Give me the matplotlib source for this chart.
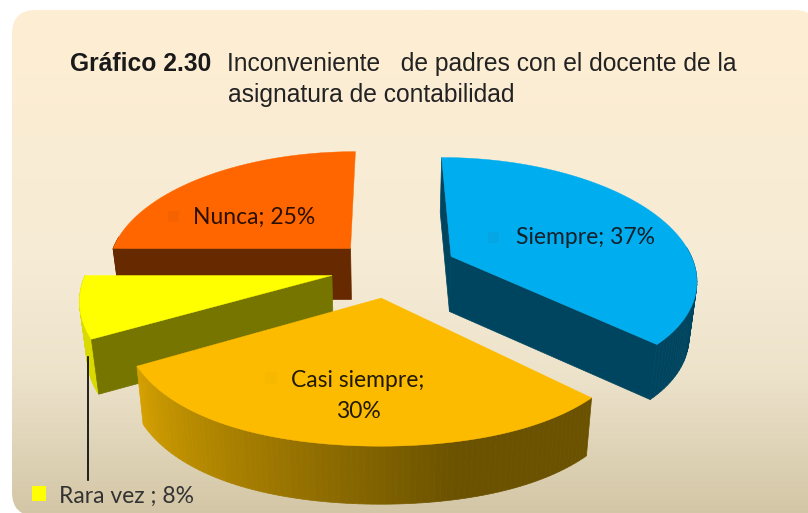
import numpy as np
import matplotlib
matplotlib.use("Agg")
import matplotlib.pyplot as plt
from matplotlib.patches import FancyBboxPatch, Polygon, Rectangle
from matplotlib.colors import LinearSegmentedColormap, to_rgb

categorias = ["Siempre", "Casi siempre", "Rara vez", "Nunca"]
valores = [37, 30, 8, 25]

# top face, cut faces, rim start / rim end
col_top = ["#00ADEF", "#FDBB00", "#FFFF00", "#FF6600"]
col_cut = ["#00455F", "#6B5200", "#757500", "#662900"]
col_rim = [("#00455F", "#00455F"), ("#6B5200", "#D4A000"), ("#DADA00", "#DADA00"), ("#662900", "#662900")]
# exploded offsets of each slice (world units)
offset = [(0.275, -0.115), (-0.015, 0.225), (-0.215, 0.045), (-0.145, -0.185)]
depth = [55, 58, 55, 51]
# which cut faces show: (first edge, last edge)
cortes = [(True, True), (False, False), (True, False), (True, False)]

X0, Y0 = 385, 270
A, B, K = 245, 120, 0.17
SHRINK = 0.975
FLAT = 0.05

fig = plt.figure(figsize=(8.08, 5.13), dpi=100)
ax = fig.add_axes([0, 0, 1, 1])
ax.set_xlim(0, 808)
ax.set_ylim(513, 0)
ax.axis("off")

# background
grad = LinearSegmentedColormap.from_list("bg", [(0, "#FEEED3"), (0.5, "#F6EBD5"), (0.72, "#EDE3CB"), (1, "#D3C6A6")])
im = ax.imshow(np.linspace(0, 1, 256).reshape(-1, 1), cmap=grad, extent=(0, 830, 516, 10), aspect="auto", zorder=0)
box = FancyBboxPatch((12, 10), 806, 506, boxstyle="round,pad=0,rounding_size=24", fc="none", ec="none", transform=ax.transData)
ax.add_patch(box)
im.set_clip_path(box)
ax.set_xlim(0, 808)
ax.set_ylim(513, 0)


def project(x, y):
    s = 1 / (1 - K * y)
    return X0 + x * A * s, Y0 + y * B * s


def lower(p, d):
    return X0 + (p[0] - X0) * SHRINK, p[1] + d


def side(p1, p2, color, z, d):
    pts = [p1, p2, lower(p2, d), lower(p1, d)]
    ax.add_patch(Polygon(pts, closed=True, fc=color, ec=color, lw=0.5, zorder=z))


fracs = np.array(valores) / sum(valores)
edges = np.concatenate([[0], np.cumsum(fracs)]) * 2 * np.pi
orden = [3, 0, 2, 1]  # back to front

for n, i in enumerate(orden):
    z = 2 + n
    th = np.linspace(edges[i], edges[i + 1], 90)
    ox, oy = offset[i]
    rim = []
    for t in th:
        fr = -np.cos(t)
        fr = fr * (1 - FLAT * max(0, fr) ** 4)
        rim.append(project(ox + np.sin(t), oy + fr))
    apex = project(ox, oy)
    c0, c1 = np.array(to_rgb(col_rim[i][0])), np.array(to_rgb(col_rim[i][1]))
    for j in range(len(rim) - 1):
        if np.cos(th[j]) > 0.1:  # back of the rim is hidden
            continue
        f = max(0, (j / (len(rim) - 2) - 0.3) / 0.7)
        side(rim[j], rim[j + 1], tuple(c0 + (c1 - c0) * f), z, depth[i])
    if cortes[i][0]:
        side(apex, rim[0], col_cut[i], z, depth[i])
    if cortes[i][1]:
        side(apex, rim[-1], col_cut[i], z, depth[i])
    ax.add_patch(Polygon([apex] + rim, closed=True, fc=col_top[i], ec=col_top[i], lw=0.3, zorder=z))

# labels
fuente = "Lato"
ax.text(516, 238, f"{categorias[0]}; {valores[0]}%", fontsize=16.5, family=fuente, color="#14202a", va="center", zorder=10)
ax.text(358, 396, f"{categorias[1]};\n{valores[1]}%", fontsize=16.5, family=fuente, color="#221a00", ha="center", va="center", linespacing=1.55, zorder=10)
ax.text(193, 217, f"{categorias[3]}; {valores[3]}%", fontsize=16.5, family=fuente, color="#2a1000", va="center", zorder=10)
ax.text(59, 496, f"{categorias[2]} ; {valores[2]}%", fontsize=16.5, family=fuente, color="#333333", va="center", zorder=10)

# legend keys
ax.add_patch(Rectangle((488, 232), 11, 11, fc="#05A6E4", ec="none", zorder=9))
ax.add_patch(Rectangle((265, 372), 12, 12, fc="#F9B800", ec="none", zorder=9))
ax.add_patch(Rectangle((168, 211), 11, 11, fc="#F66200", ec="none", zorder=9))
ax.add_patch(Rectangle((32, 486), 14, 15, fc=col_top[2], ec="none", zorder=9))

# leader line
ax.plot([87.5, 87.5], [357, 480], color="black", lw=1.2, zorder=9)

# title
ax.text(70, 64, "Gráfico 2.30", fontsize=17.7, fontweight="bold", family="Liberation Sans", color="#1a1a1a", va="center")
ax.text(227, 64, "Inconveniente   de padres con el docente de la", fontsize=17.7, family="Liberation Sans", color="#222222", va="center")
ax.text(228, 95, "asignatura de contabilidad", fontsize=17.7, family="Liberation Sans", color="#222222", va="center")

fig.savefig("out.png", dpi=100)
